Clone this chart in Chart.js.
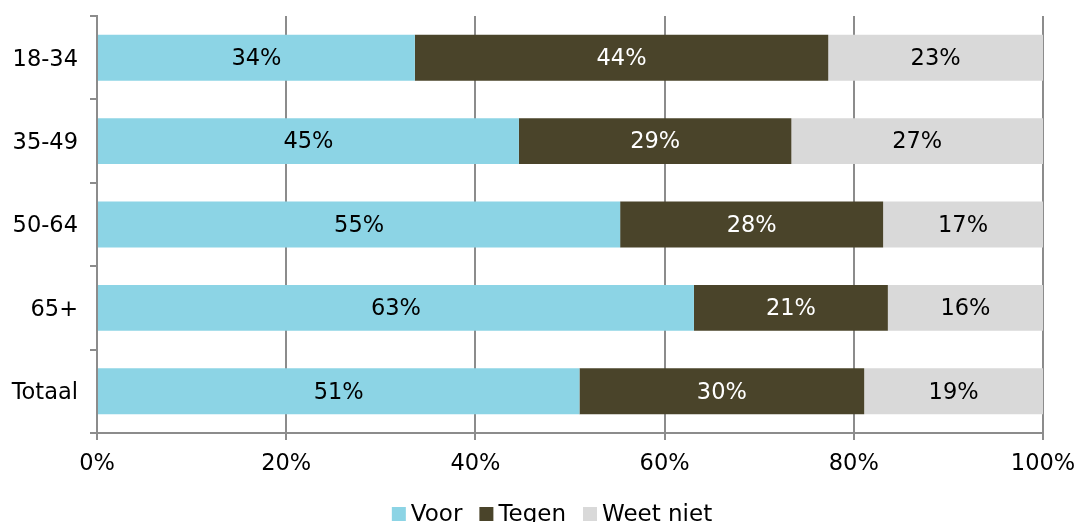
<!DOCTYPE html>
<html>
<head>
<meta charset="utf-8">
<script src="https://cdn.jsdelivr.net/npm/chart.js@4/dist/chart.umd.min.js"></script>
<style>
html,body{margin:0;padding:0;background:#fff;}
#wrap{width:1076px;height:522px;}
</style>
</head>
<body>
<div id="wrap"><canvas id="c" width="1076" height="522"></canvas></div>
<script>
const categories = ['18-34', '35-49', '50-64', '65+', 'Totaal'];
const voor = [33.6, 44.6, 55.3, 63.1, 51.0];
const tegen = [43.7, 28.8, 27.8, 20.5, 30.1];
const weetNiet = [22.7, 26.6, 16.9, 16.4, 18.9];
const voorLabels = ['34%', '45%', '55%', '63%', '51%'];
const tegenLabels = ['44%', '29%', '28%', '21%', '30%'];
const weetNietLabels = ['23%', '27%', '17%', '16%', '19%'];
const xTicks = [0, 20, 40, 60, 80, 100];

const FONT = '"DejaVu Sans", Verdana, sans-serif';
const FS = 22.5;
const LFS = 23;

const labelPlugin = {
  id: 'barLabels',
  afterDatasetsDraw(chart) {
    const ctx = chart.ctx;
    ctx.save();
    ctx.font = FS + 'px ' + FONT;
    ctx.textAlign = 'center';
    ctx.textBaseline = 'middle';
    chart.data.datasets.forEach((ds, di) => {
      const meta = chart.getDatasetMeta(di);
      meta.data.forEach((bar, i) => {
        const x = (bar.x + bar.base) / 2;
        ctx.fillStyle = ds.labelColor;
        ctx.fillText(ds.labels[i], x, bar.y + 1.5);
      });
    });
    ctx.restore();
  }
};

const legendPlugin = {
  id: 'bottomLegend',
  afterDraw(chart) {
    const ctx = chart.ctx;
    ctx.save();
    ctx.font = LFS + 'px ' + FONT;
    ctx.textBaseline = 'alphabetic';
    ctx.textAlign = 'left';
    const box = 14, gap = 5, itemGap = 17;
    const items = chart.data.datasets.map(ds => ({text: ds.label, color: ds.backgroundColor, w: ctx.measureText(ds.label).width}));
    let total = 0;
    items.forEach((it, i) => { total += box + gap + it.w + (i < items.length - 1 ? itemGap : 0); });
    let x = 552 - total / 2;
    const baseY = 521;
    items.forEach(it => {
      ctx.fillStyle = it.color;
      ctx.fillRect(x, 507, box, box);
      x += box + gap;
      ctx.fillStyle = '#000';
      ctx.fillText(it.text, x, baseY);
      x += it.w + itemGap;
    });
    ctx.restore();
  }
};

new Chart(document.getElementById('c'), {
  type: 'bar',
  data: {
    labels: categories,
    datasets: [
      {label: 'Voor', data: voor, labels: voorLabels, labelColor: '#000', backgroundColor: '#8cd4e5'},
      {label: 'Tegen', data: tegen, labels: tegenLabels, labelColor: '#fff', backgroundColor: '#4a442a'},
      {label: 'Weet niet', data: weetNiet, labels: weetNietLabels, labelColor: '#000', backgroundColor: '#d9d9d9'}
    ]
  },
  options: {
    indexAxis: 'y',
    responsive: false,
    animation: false,
    devicePixelRatio: 1,
    layout: {padding: {top: 16, right: 33, left: 0, bottom: 0}},
    datasets: {bar: {barPercentage: 0.55, categoryPercentage: 1.0, borderWidth: 0}},
    scales: {
      x: {
        stacked: true,
        min: 0, max: 100,
        afterBuildTicks(scale) { scale.ticks = xTicks.map(v => ({value: v})); },
        afterFit(scale) { scale.height = 89; scale.paddingLeft = 0; scale.paddingRight = 0; },
        ticks: {
          callback: v => v + '%',
          color: '#000',
          font: {family: FONT, size: FS},
          padding: 11,
          maxRotation: 0
        },
        grid: {color: '#8c8c8c', lineWidth: 2, tickLength: 7, drawOnChartArea: true},
        border: {color: '#8c8c8c', width: 2}
      },
      y: {
        stacked: true,
        afterFit(scale) { scale.width = 97; scale.paddingTop = 0; scale.paddingBottom = 0; },
        ticks: {color: '#000', font: {family: FONT, size: FS}, padding: 12, labelOffset: 2},
        grid: {offset: true, drawOnChartArea: false, color: '#8c8c8c', lineWidth: 2, tickLength: 7},
        border: {color: '#8c8c8c', width: 2}
      }
    },
    plugins: {
      legend: {display: false},
      tooltip: {enabled: false}
    }
  },
  plugins: [labelPlugin, legendPlugin]
});
</script>
</body>
</html>
